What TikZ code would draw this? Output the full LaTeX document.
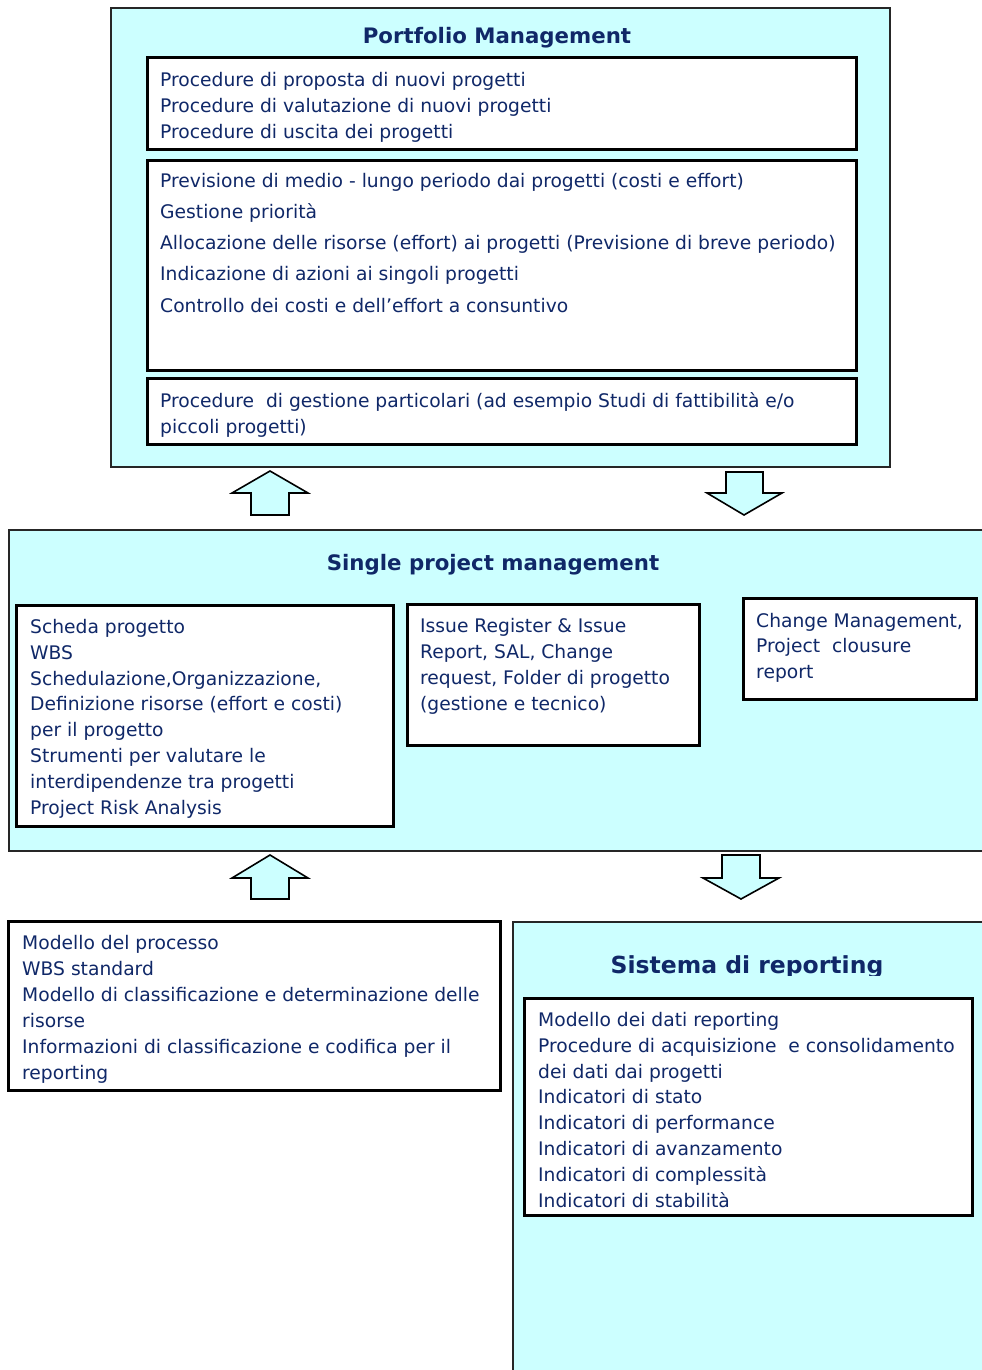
\documentclass[tikz,border=0pt]{standalone}
\usepackage{fontspec}
\setmainfont{DejaVu Sans}
\definecolor{navy}{RGB}{16,40,104}
\definecolor{paleblue}{RGB}{204,255,255}
\begin{document}
\begin{tikzpicture}[x=1pt, y=-1pt,
  panel/.style={draw=black!85, line width=1.8pt, fill=paleblue, anchor=north west, inner sep=0pt, outer sep=0pt},
  box/.style={draw=black, line width=3pt, fill=white, anchor=north west, inner sep=0pt, outer sep=0pt},
  txt/.style={anchor=north west, inner sep=0pt, align=left, text=navy, font=\fontsize{18.7}{26}\selectfont},
  title/.style={anchor=base, inner sep=0pt, text=navy, font=\fontsize{21.3}{25}\selectfont\bfseries},
  blockarrow/.style={draw=black, line width=1.6pt, fill=paleblue, line join=miter}]
\useasboundingbox (0,0) rectangle (982,1370);

% Portfolio management
\node[panel, minimum width=779, minimum height=459] (portfolio) at (111,8) {};
\node[title] (portfoliotitle) at (497,44) {Portfolio Management};
\node[box, minimum width=709, minimum height=91] (procbox) at (147,58) {};
\node[txt] (proctext) at (160,72) {Procedure di proposta di nuovi progetti\\
Procedure di valutazione di nuovi progetti\\
Procedure di uscita dei progetti};
\node[box, minimum width=709, minimum height=210] (planbox) at (147,160) {};
\node[txt, font=\fontsize{18.7}{31.25}\selectfont] (plantext) at (160,172.8) {Previsione di medio - lungo periodo dai progetti (costi e effort)\\
Gestione priorità\\
Allocazione delle risorse (effort) ai progetti (Previsione di breve periodo)\\
Indicazione di azioni ai singoli progetti\\
Controllo dei costi e dell’effort a consuntivo};
\node[box, minimum width=709, minimum height=66] (specbox) at (147,378) {};
\node[txt] (spectext) at (160,392.8) {Procedure~ di gestione particolari (ad esempio Studi di fattibilità e/o\\
piccoli progetti)};

% arrows between portfolio and single project
\draw[blockarrow] (270,471) -- (308,493) -- (289,493) -- (289,515) -- (251,515) -- (251,493) -- (232,493) -- cycle;
\draw[blockarrow] (726,472) -- (763,472) -- (763,493) -- (782,493) -- (744,515) -- (707,493) -- (726,493) -- cycle;

% Single project management
\node[panel, minimum width=990, minimum height=321] (single) at (9,530) {};
\node[title] (singletitle) at (493,570) {Single project management};
\node[box, minimum width=377, minimum height=221] (schedbox) at (16,605) {};
\node[txt, font=\fontsize{18.7}{25.9}\selectfont] (schedtext) at (30,618.8) {Scheda progetto\\
WBS\\
Schedulazione,Organizzazione,\\
Definizione risorse (effort e costi)\\
per il progetto\\
Strumenti per valutare le\\
interdipendenze tra progetti\\
Project Risk Analysis};
\node[box, minimum width=292, minimum height=141] (issuebox) at (407,604) {};
\node[txt] (issuetext) at (420,618) {Issue Register \& Issue\\
Report, SAL, Change\\
request, Folder di progetto\\
(gestione e tecnico)};
\node[box, minimum width=233, minimum height=101] (changebox) at (743,598) {};
\node[txt, font=\fontsize{18.7}{25.5}\selectfont] (changetext) at (756,612.8) {Change Management,\\
Project~ clousure\\
report};

% arrows between single project and the lower blocks
\draw[blockarrow] (270,855) -- (308,878) -- (289,878) -- (289,899) -- (251,899) -- (251,878) -- (232,878) -- cycle;
\draw[blockarrow] (722,855) -- (760,855) -- (760,878) -- (779,878) -- (741,899) -- (703,878) -- (722,878) -- cycle;

% Process model
\node[box, minimum width=492, minimum height=169] (modelbox) at (8,921) {};
\node[txt] (modeltext) at (22,934.8) {Modello del processo\\
WBS standard\\
Modello di classificazione e determinazione delle\\
risorse\\
Informazioni di classificazione e codifica per il\\
reporting};

% Sistema di reporting
\node[panel, minimum width=480, minimum height=460] (reporting) at (513,922) {};
\begin{scope}
\clip (513,922) rectangle (982,975);
\node[title, font=\fontsize{23.5}{28}\selectfont\bfseries] (reportingtitle) at (747,973) {Sistema di reporting};
\end{scope}
\node[box, minimum width=448, minimum height=217] (databox) at (524,998) {};
\node[txt, font=\fontsize{18.7}{25.9}\selectfont] (datatext) at (538,1011.8) {Modello dei dati reporting\\
Procedure di acquisizione~ e consolidamento\\
dei dati dai progetti\\
Indicatori di stato\\
Indicatori di performance\\
Indicatori di avanzamento\\
Indicatori di complessità\\
Indicatori di stabilità};
\end{tikzpicture}
\end{document}
